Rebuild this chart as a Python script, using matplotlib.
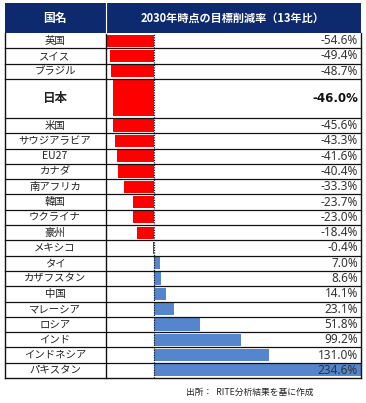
import matplotlib
matplotlib.use("Agg")
import matplotlib.pyplot as plt
from matplotlib.patches import Rectangle
from matplotlib.lines import Line2D
import matplotlib.transforms as mtransforms

plt.rcParams['font.family'] = ['Noto Sans CJK JP', 'DejaVu Sans']

countries = ["英国", "スイス", "ブラジル", "日本", "米国", "サウジアラビア", "EU27", "カナダ",
             "南アフリカ", "韓国", "ウクライナ", "豪州", "メキシコ", "タイ", "カザフスタン",
             "中国", "マレーシア", "ロシア", "インド", "インドネシア", "パキスタン"]
values = [-54.6, -49.4, -48.7, -46.0, -45.6, -43.3, -41.6, -40.4, -33.3, -23.7, -23.0,
          -18.4, -0.4, 7.0, 8.6, 14.1, 23.1, 51.8, 99.2, 131.0, 234.6]
header_col1 = "国名"
header_col2 = "2030年時点の目標削減率（13年比）"
source_note = "出所：  RITE分析結果を基に作成"
highlight = "日本"

W, H = 366, 403
fig = plt.figure(figsize=(W / 100, H / 100), dpi=100)

def fx(px):
    return px / W

def fy(py):
    return 1 - py / H

# geometry in pixels
tbl_left, col_div, tbl_right = 5, 105.5, 361
hdr_top, hdr_bot, tbl_bot = 3, 33, 378

ax = fig.add_axes([fx(col_div), fy(tbl_bot), fx(tbl_right - col_div), (tbl_bot - hdr_bot) / H])

# row heights
heights = [2.55 if c == highlight else 1.0 for c in countries]
tops = []
acc = 0.0
for h in heights:
    tops.append(acc)
    acc += h
total = acc
centers = [t + h / 2 for t, h in zip(tops, heights)]

colors = ["#FF0000" if v < 0 else "#5585CC" for v in values]
bar_h = [h - 0.2 for h in heights]
ax.barh(centers, values, height=bar_h, color=colors, edgecolor='none', zorder=2)

ax.set_xlim(-54.6, 234.6)
ax.set_ylim(total, 0)
ax.axis('off')

# zero dotted line
ax.axvline(0, color='#222222', lw=0.9, ls=(0, (1, 1)), zorder=3)

# row separator lines across entire table
trans = mtransforms.blended_transform_factory(fig.transFigure, ax.transData)
for t in tops[1:]:
    fig.add_artist(Line2D([fx(tbl_left), fx(tbl_right)], [t, t], transform=trans,
                          color='#111111', lw=0.9, zorder=4))
# bottom border
fig.add_artist(Line2D([fx(tbl_left), fx(tbl_right)], [fy(tbl_bot), fy(tbl_bot)],
                      transform=fig.transFigure, color='#111111', lw=1.0))
# vertical borders
for xp in (tbl_left, col_div, tbl_right):
    fig.add_artist(Line2D([fx(xp), fx(xp)], [fy(hdr_bot), fy(tbl_bot)],
                          transform=fig.transFigure, color='#111111', lw=1.0))

# header
fig.add_artist(Rectangle((fx(tbl_left), fy(hdr_bot)), fx(tbl_right - tbl_left),
                         (hdr_bot - hdr_top) / H, transform=fig.transFigure,
                         facecolor='#0E2A6E', edgecolor='none'))
fig.add_artist(Line2D([fx(col_div), fx(col_div)], [fy(hdr_bot), fy(hdr_top)],
                      transform=fig.transFigure, color='#FFFFFF', lw=0.8))
fig.text(fx(55), fy(18), header_col1, color='white', fontsize=8.5, fontweight='bold',
         ha='center', va='center')
fig.text(fx(233), fy(18), header_col2, color='white', fontsize=8, fontweight='bold',
         ha='center', va='center')

# labels
for c, v, yc in zip(countries, values, centers):
    bold = c == highlight
    fs = 9 if bold else 7.5
    fw = 'bold' if bold else 'normal'
    ax.text(fx(55), yc, c, transform=trans, ha='center', va='center', fontsize=fs,
            fontweight=fw, color='#222222', zorder=5)
    ax.text(fx(358), yc, f"{v:.1f}%", transform=trans, ha='right', va='center',
            fontsize=8.5, fontweight=fw, color='#111111' if bold else '#333333',
            family=['DejaVu Sans'] if bold else ['Noto Sans', 'DejaVu Sans'], zorder=5)

fig.text(fx(186), fy(392), source_note, fontsize=6.3, ha='left', va='center', color='#222222')

fig.savefig("out.png", dpi=100, facecolor='white')
